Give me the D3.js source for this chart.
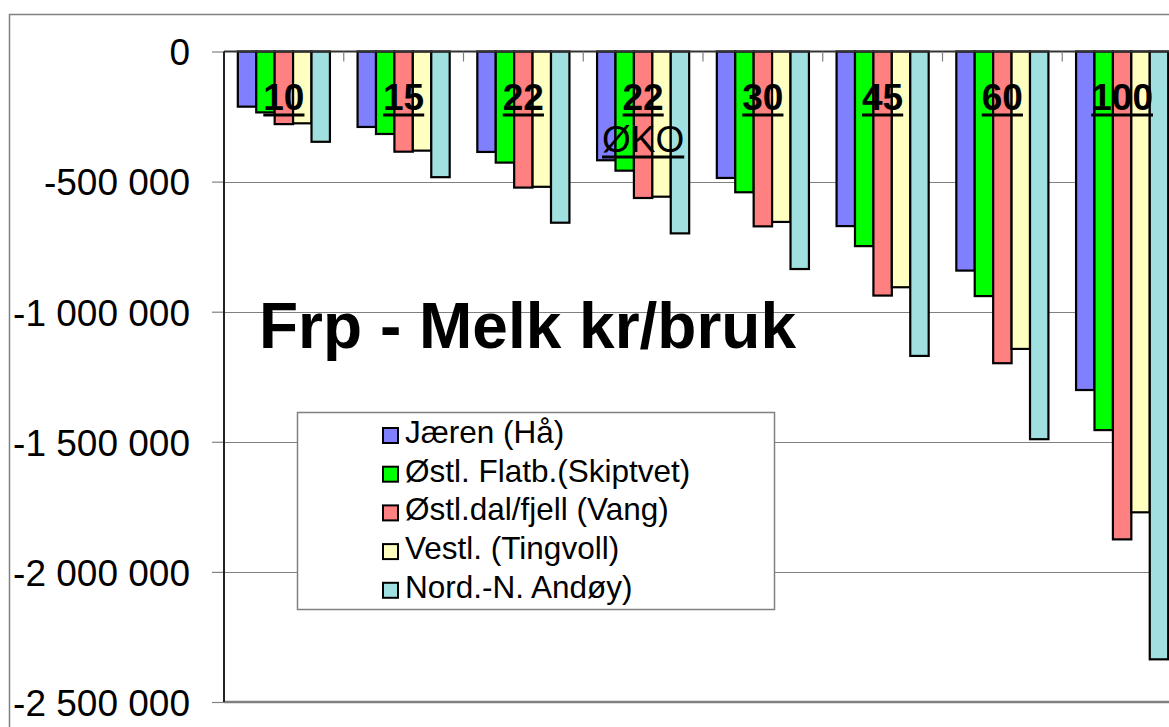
<!DOCTYPE html>
<html>
<head>
<meta charset="utf-8">
<script src="https://cdn.jsdelivr.net/npm/d3@7"></script>
<style>
  body { margin: 0; background: #fff; }
  text { font-family: "Liberation Sans", Arial, sans-serif; }
</style>
</head>
<body>
<svg width="1169" height="727"></svg>
<script>
// data
var categories = ["10", "15", "22", "22 ØKO", "30", "45", "60", "100"];
var seriesNames = ["Jæren (Hå)", "Østl. Flatb.(Skiptvet)", "Østl.dal/fjell (Vang)", "Vestl. (Tingvoll)", "Nord.-N. Andøy)"];
var jaren = [-212000, -290000, -386000, -418000, -486000, -671000, -842000, -1301000];
var ostFlat = [-234000, -317000, -427000, -458000, -541000, -748000, -940000, -1455000];
var ostDal = [-279000, -385000, -523000, -563000, -672000, -938000, -1198000, -1875000];
var vestl = [-276000, -381000, -520000, -558000, -655000, -906000, -1143000, -1771000];
var nord = [-347000, -483000, -658000, -699000, -836000, -1170000, -1490000, -2336000];
var yTicks = [0, -500000, -1000000, -1500000, -2000000, -2500000];
var colors = ["#8080ff", "#00ff00", "#ff8080", "#ffffc0", "#a0e0e0"];
var title = "Frp - Melk kr/bruk";

var allSeries = [jaren, ostFlat, ostDal, vestl, nord];

var svg = d3.select("svg"),
    width = +svg.attr("width"),
    height = +svg.attr("height");

var plot = {left: 224, right: 1182, top: 51.5, bottom: 702};

var locale = d3.formatLocale({decimal: ",", thousands: " ", grouping: [3], currency: ["", ""], minus: "-"});
var fmt = locale.format(",d");

var x0 = d3.scaleBand()
    .domain(categories)
    .range([plot.left, plot.right])
    .padding(0);

var x1 = d3.scaleBand()
    .domain(d3.range(seriesNames.length))
    .range([0, x0.bandwidth()])
    .paddingInner(0)
    .paddingOuter(0.75);

var y = d3.scaleLinear()
    .domain([-2500000, 0])
    .range([plot.bottom, plot.top]);

// outer frame
svg.append("rect")
    .attr("x", 9.5).attr("y", 14.5)
    .attr("width", width + 20).attr("height", height + 20)
    .attr("fill", "#fff")
    .attr("stroke", "#808080")
    .attr("stroke-width", 1.5);

// gridlines
svg.append("g")
    .selectAll("line")
    .data(yTicks.filter(d => d !== 0 && d !== -2500000))
    .join("line")
    .attr("x1", plot.left).attr("x2", plot.right)
    .attr("y1", d => Math.round(y(d)) + 0.5).attr("y2", d => Math.round(y(d)) + 0.5)
    .attr("stroke", "#808080")
    .attr("stroke-width", 1.2);

// y axis
var yAxis = d3.axisLeft(y)
    .tickValues(yTicks)
    .tickFormat(fmt)
    .tickSize(12)
    .tickPadding(22);

var gY = svg.append("g")
    .attr("transform", `translate(${plot.left},0)`)
    .call(yAxis);
gY.select(".domain").remove();
gY.selectAll(".tick line").attr("stroke", "#808080").attr("stroke-width", 1.2);
gY.selectAll(".tick text")
    .attr("fill", "#000")
    .style("font-size", "37px")
    .style("font-family", "'Liberation Sans', Arial, sans-serif")
    .attr("dy", "0.36em");

// bars
var groups = svg.append("g")
    .selectAll("g")
    .data(categories)
    .join("g")
    .attr("transform", d => `translate(${x0(d)},0)`);

groups.selectAll("rect")
    .data((c, ci) => allSeries.map((s, si) => ({si: si, v: s[ci]})))
    .join("rect")
    .attr("x", d => x1(d.si))
    .attr("y", y(0))
    .attr("width", x1.bandwidth())
    .attr("height", d => y(d.v) - y(0))
    .attr("fill", d => colors[d.si])
    .attr("stroke", "#000")
    .attr("stroke-width", 2.2);

// bottom axis line
svg.append("line")
    .attr("x1", plot.left).attr("x2", plot.right)
    .attr("y1", plot.bottom).attr("y2", plot.bottom)
    .attr("stroke", "#808080")
    .attr("stroke-width", 2.5);

// zero line and category ticks
svg.append("line")
    .attr("x1", plot.left).attr("x2", plot.right)
    .attr("y1", y(0)).attr("y2", y(0))
    .attr("stroke", "#333")
    .attr("stroke-width", 2);

svg.append("g")
    .selectAll("line")
    .data(categories.slice(1))
    .join("line")
    .attr("x1", d => x0(d)).attr("x2", d => x0(d))
    .attr("y1", y(0)).attr("y2", y(0) + 10)
    .attr("stroke", "#808080")
    .attr("stroke-width", 1.2);

// left axis line
svg.append("line")
    .attr("x1", plot.left).attr("x2", plot.left)
    .attr("y1", plot.top).attr("y2", plot.bottom)
    .attr("stroke", "#222")
    .attr("stroke-width", 2);

// category labels (underlined)
function underlined(g, str, cx, baseline, weight) {
    var t = g.append("text")
        .attr("x", cx).attr("y", baseline)
        .attr("text-anchor", "middle")
        .style("font-size", "37px")
        .style("font-weight", weight)
        .attr("fill", "#000")
        .text(str);
    var w = t.node().getComputedTextLength();
    g.append("line")
        .attr("x1", cx - w / 2).attr("x2", cx + w / 2)
        .attr("y1", baseline + 5).attr("y2", baseline + 5)
        .attr("stroke", "#000")
        .attr("stroke-width", 3);
}

var labels = svg.append("g");
categories.forEach(function (c) {
    var cx = x0(c) + x0.bandwidth() / 2;
    var parts = c.split(" ");
    underlined(labels, parts[0], cx, 110, "bold");
    if (parts[1]) underlined(labels, parts[1], cx, 152, "normal");
});

// title
svg.append("text")
    .attr("x", 259).attr("y", 348)
    .style("font-size", "64px")
    .style("font-weight", "bold")
    .attr("fill", "#000")
    .text(title);

// legend
var legend = svg.append("g");
legend.append("rect")
    .attr("x", 297.5).attr("y", 412.5)
    .attr("width", 477).attr("height", 197)
    .attr("fill", "#fff")
    .attr("stroke", "#808080")
    .attr("stroke-width", 1.5);

var items = legend.selectAll("g")
    .data(seriesNames)
    .join("g")
    .attr("transform", (d, i) => `translate(383,${443 + i * 38.7})`);

items.append("rect")
    .attr("x", 0).attr("y", -15)
    .attr("width", 15).attr("height", 15)
    .attr("fill", (d, i) => colors[i])
    .attr("stroke", "#000")
    .attr("stroke-width", 2);

items.append("text")
    .attr("x", 22).attr("y", 0)
    .style("font-size", "31.5px")
    .attr("fill", "#000")
    .text(d => d);
</script>
</body>
</html>
